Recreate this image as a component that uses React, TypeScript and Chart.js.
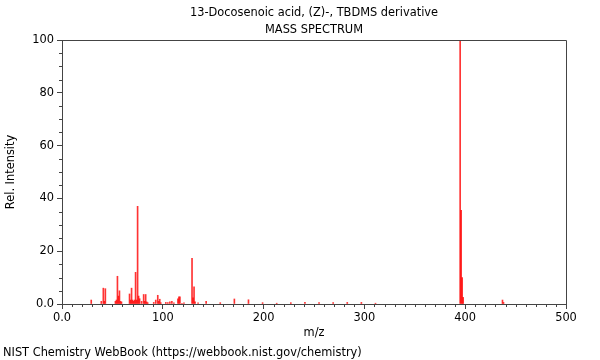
import React, { useEffect, useRef } from 'react';
import { Chart, registerables } from 'chart.js';

Chart.register(...registerables);

const chartTitle = '13-Docosenoic acid, (Z)-, TBDMS derivative';
const chartSubtitle = 'MASS SPECTRUM';
const footerText = 'NIST Chemistry WebBook (https://webbook.nist.gov/chemistry)';
const xAxisLabel = 'm/z';
const yAxisLabel = 'Rel. Intensity';

const mzValues = [
  29, 39, 41, 42, 43, 53, 54, 55, 56, 57, 58, 59, 67, 68, 69, 70, 71, 72, 73, 74, 75, 76, 77, 79,
  81, 82, 83, 84, 85, 91, 93, 95, 96, 97, 98, 103, 105, 107, 109, 111, 115, 116, 117, 119, 121,
  129, 130, 131, 132, 135, 143, 157, 171, 185, 199, 213, 227, 241, 255, 269, 283, 297, 311,
  395, 396, 397, 398, 437, 438,
];
const intensities = [
  1.5, 1.0, 6.0, 1.0, 5.8, 1.0, 1.5, 10.5, 3.0, 5.0, 1.0, 0.8, 3.8, 1.5, 6.0, 1.5, 1.0, 1.5, 12.0, 1.5, 37.0, 3.0, 2.0, 1.0,
  3.6, 1.0, 3.6, 0.8, 0.5, 0.6, 1.5, 3.3, 1.0, 1.8, 0.5, 0.6, 0.5, 0.8, 1.0, 0.4, 2.0, 2.7, 2.7, 0.3, 0.4,
  17.3, 2.3, 6.5, 0.8, 0.4, 1.0, 0.5, 1.9, 1.6, 0.5, 0.3, 0.5, 0.6, 0.5, 0.5, 0.6, 0.6, 0.3,
  100, 35.5, 10, 2.5, 1.5, 0.6,
];

const xTickValues = [0, 100, 200, 300, 400, 500];
const xTickLabels = ['0.0', '100', '200', '300', '400', '500'];
const yTickValues = [0, 20, 40, 60, 80, 100];
const yTickLabels = ['0.0', '20', '40', '60', '80', '100'];
const xMinorStep = 10;
const yMinorStep = 5;

const FONT = '"DejaVu Sans", sans-serif';
const AXIS_COLOR = '#444';

const decoPlugin = {
  id: 'deco',
  afterDraw(chart: any) {
    const { ctx, chartArea: a, scales } = chart;
    ctx.save();
    ctx.strokeStyle = AXIS_COLOR;
    ctx.lineWidth = 1;
    ctx.beginPath();
    ctx.moveTo(Math.round(a.left), Math.round(a.top) + 0.5);
    ctx.lineTo(Math.round(a.right) + 0.5, Math.round(a.top) + 0.5);
    ctx.lineTo(Math.round(a.right) + 0.5, Math.round(a.bottom));
    ctx.stroke();
    ctx.beginPath();
    for (let v = 0; v <= 500; v += xMinorStep) {
      if (xTickValues.includes(v)) continue;
      const px = Math.round(scales.x.getPixelForValue(v)) + 0.5;
      ctx.moveTo(px, a.bottom);
      ctx.lineTo(px, a.bottom + 3);
    }
    for (let v = 0; v <= 100; v += yMinorStep) {
      if (yTickValues.includes(v)) continue;
      const py = Math.round(scales.y.getPixelForValue(v)) + 0.5;
      ctx.moveTo(a.left - 3, py);
      ctx.lineTo(a.left, py);
    }
    ctx.stroke();
    ctx.fillStyle = '#000';
    ctx.font = `11.4px ${FONT}`;
    ctx.textBaseline = 'middle';
    ctx.textAlign = 'center';
    const cx = (a.left + a.right) / 2;
    ctx.fillText(chartTitle, cx, 13);
    ctx.fillText(chartSubtitle, cx, 30);
    ctx.fillText(xAxisLabel, cx, 333);
    ctx.textAlign = 'left';
    ctx.fillText(footerText, 3, 353);
    ctx.save();
    ctx.translate(11, (a.top + a.bottom) / 2);
    ctx.rotate(-Math.PI / 2);
    ctx.textAlign = 'center';
    ctx.fillText(yAxisLabel, 0, 0);
    ctx.restore();
    ctx.restore();
  },
};

export default function App() {
  const canvasRef = useRef<HTMLCanvasElement | null>(null);

  useEffect(() => {
    if (!canvasRef.current) return;
    const data = mzValues.map((m, i) => ({ x: m, y: intensities[i] }));
    const chart = new Chart(canvasRef.current, {
      type: 'bar',
      data: {
        datasets: [
          {
            data,
            backgroundColor: 'rgba(255,0,0,0.8)',
            borderWidth: 0,
            barThickness: 1,
          } as any,
        ],
      },
      options: {
        responsive: false,
        animation: false,
        events: [],
        layout: { padding: { top: 40, right: 34, left: 0, bottom: 0 } },
        plugins: { legend: { display: false }, tooltip: { enabled: false }, title: { display: false } },
        scales: {
          x: {
            type: 'linear',
            min: 0,
            max: 500,
            offset: false,
            afterBuildTicks: (s: any) => {
              s.ticks = xTickValues.map((v) => ({ value: v }));
            },
            afterFit: (s: any) => {
              s.height = 56;
            },
            ticks: {
              autoSkip: false,
              maxRotation: 0,
              padding: 2,
              color: '#000',
              font: { family: FONT, size: 11.4 },
              callback: (v: any) => {
                const i = xTickValues.indexOf(Number(v));
                return i >= 0 ? xTickLabels[i] : '';
              },
            },
            grid: { drawOnChartArea: false, offset: false, tickLength: 5, color: AXIS_COLOR },
            border: { display: true, color: AXIS_COLOR },
          },
          y: {
            type: 'linear',
            min: 0,
            max: 100,
            afterBuildTicks: (s: any) => {
              s.ticks = yTickValues.map((v) => ({ value: v }));
            },
            afterFit: (s: any) => {
              s.width = 62;
            },
            ticks: {
              autoSkip: false,
              padding: 3,
              color: '#000',
              font: { family: FONT, size: 11.4 },
              callback: (v: any) => {
                const i = yTickValues.indexOf(Number(v));
                return i >= 0 ? yTickLabels[i] : '';
              },
            },
            grid: { drawOnChartArea: false, tickLength: 5, color: AXIS_COLOR },
            border: { display: true, color: AXIS_COLOR },
          },
        },
      },
      plugins: [decoPlugin],
    });
    return () => chart.destroy();
  }, []);

  return (
    <div style={{ position: 'fixed', left: 0, top: 0, width: 600, height: 360, background: '#fff' }}>
      <canvas ref={canvasRef} width={600} height={360} style={{ display: 'block', width: 600, height: 360 }} />
    </div>
  );
}
